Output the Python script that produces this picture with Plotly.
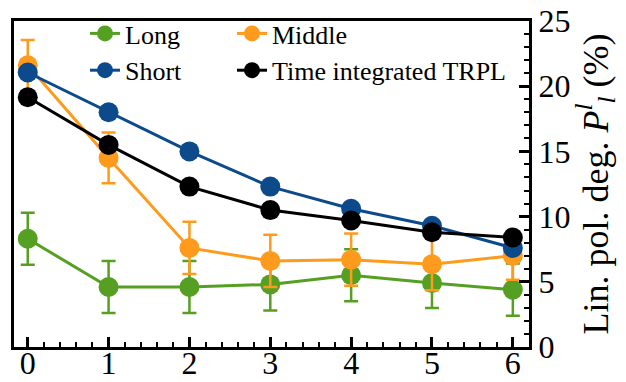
import plotly.graph_objects as go

# Excitation / bin index
x = [0, 1, 2, 3, 4, 5, 6]

# Linear polarisation degree (%) for each group
long_vals = [8.3, 4.6, 4.6, 4.8, 5.5, 4.9, 4.4]
long_err = [2.0, 2.0, 2.0, 2.0, 2.0, 1.9, 2.0]
middle_vals = [21.6, 14.5, 7.6, 6.6, 6.7, 6.35, 7.0]
middle_err = [1.95, 1.95, 2.0, 2.0, 2.0, 2.0, 1.85]
short_vals = [21.05, 18.0, 15.0, 12.3, 10.6, 9.3, 7.6]
trpl_vals = [19.15, 15.5, 12.3, 10.5, 9.7, 8.8, 8.4]

FONT = "Liberation Serif, Times New Roman, serif"
GREEN = "#55a022"
ORANGE = "#ff9b1c"
BLUE = "#0d4a8c"
BLACK = "#000000"

# plot-area geometry in pixels (used to place the legends in paper units)
W, H = 626, 382
ML, MR, MT, MB = 14, 97, 21, 35
PW, PH = W - ML - MR, H - MT - MB

fig = go.Figure()


def add_series(name, vals, color, legend, err=None):
    kw = {}
    if err is not None:
        kw["error_y"] = dict(type="data", array=err, visible=True,
                             color=color, thickness=2.5, width=7)
    fig.add_trace(go.Scatter(
        x=x, y=vals, name=name, mode="lines+markers",
        line=dict(color=color, width=3),
        marker=dict(color=color, size=20),
        legend=legend, **kw))


add_series("Long", long_vals, GREEN, "legend", long_err)
add_series("Middle", middle_vals, ORANGE, "legend2", middle_err)
add_series("Short", short_vals, BLUE, "legend")
add_series("Time integrated TRPL", trpl_vals, BLACK, "legend2")

legend_common = dict(
    font=dict(family=FONT, size=26, color="black"),
    bgcolor="rgba(0,0,0,0)", borderwidth=0,
    orientation="v", xanchor="left", yanchor="top",
    xref="paper", yref="paper", tracegroupgap=0,
    itemsizing="trace",
)

fig.update_layout(
    width=W, height=H,
    margin=dict(l=ML, r=MR, t=MT, b=MB, autoexpand=False),
    paper_bgcolor="white", plot_bgcolor="white",
    font=dict(family=FONT, size=32, color="black"),
    showlegend=True,
    legend=dict(x=(85 - ML) / PW, y=1 - (10 - MT) / PH, **legend_common),
    legend2=dict(x=(232 - ML) / PW, y=1 - (10 - MT) / PH, **legend_common),
    xaxis=dict(
        range=[-0.17, 6.2], tickmode="linear", tick0=0, dtick=1,
        ticks="inside", ticklen=10, tickwidth=2.5, tickcolor="black",
        minor=dict(dtick=0.2, ticks="inside", ticklen=5, tickwidth=2,
                   tickcolor="black"),
        showline=True, linewidth=3, linecolor="black", mirror=True,
        showgrid=False, zeroline=False,
        tickfont=dict(family=FONT, size=32),
        ticklabelstandoff=-14,
    ),
    yaxis=dict(
        range=[0, 25], side="right", tickmode="linear", tick0=0, dtick=5,
        ticks="inside", ticklen=10, tickwidth=2.5, tickcolor="black",
        minor=dict(dtick=1, ticks="inside", ticklen=5, tickwidth=2,
                   tickcolor="black"),
        showline=True, linewidth=3, linecolor="black", mirror=True,
        showgrid=False, zeroline=False,
        tickfont=dict(family=FONT, size=32),
        title=dict(
            text="Lin. pol. deg. <i>P</i><sup><i>l</i></sup><sub><i>l</i></sub> (%)",
            font=dict(family=FONT, size=36), standoff=2),
    ),
)

fig.write_html("out.html")
